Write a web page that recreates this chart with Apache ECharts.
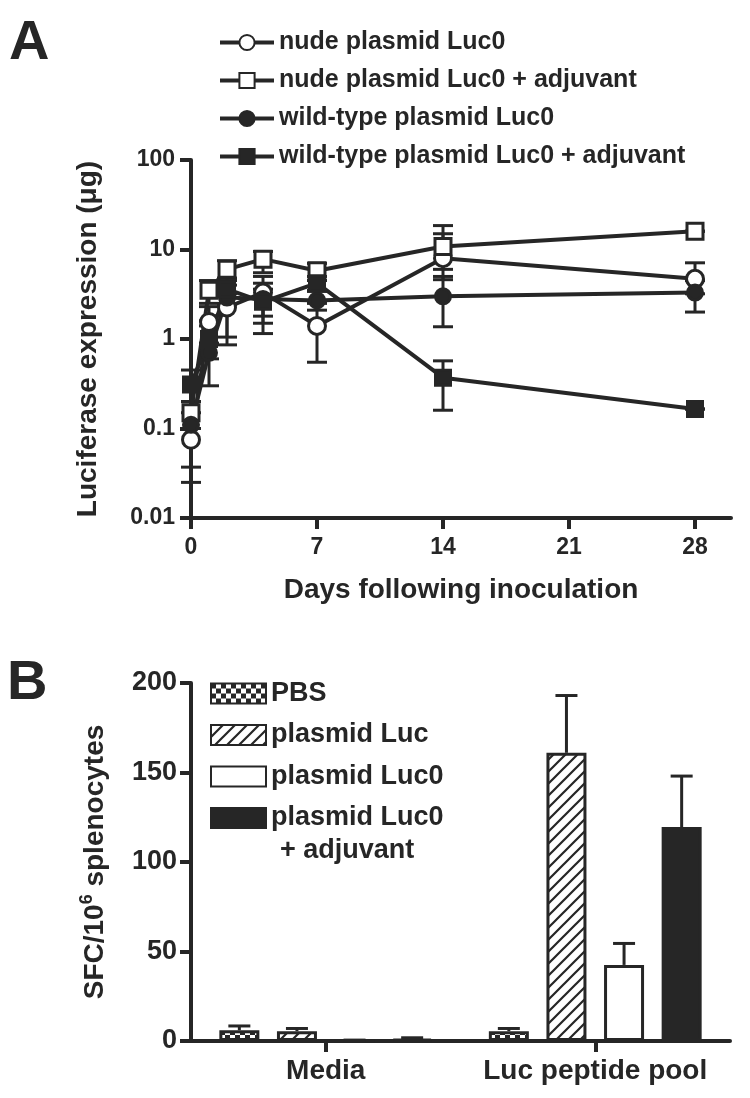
<!DOCTYPE html>
<html>
<head>
<meta charset="utf-8">
<script src="https://cdn.jsdelivr.net/npm/echarts@6/dist/echarts.min.js"></script>
<style>
html, body { margin: 0; padding: 0; background: #fff; }
#chart { width: 750px; height: 1098px; }
</style>
</head>
<body>
<div id="chart"></div>
<script>
// panel A - luciferase expression, log scale
const days = [0, 1, 2, 4, 7, 14, 28];
const xTicksA = [0, 7, 14, 21, 28];
const yTicksA = [0.01, 0.1, 1, 10, 100];

const nudeLuc0     = [0.075, 1.55, 2.25, 3.3, 1.4, 8.0, 4.7];
const nudeLuc0Lo   = [0.025, 0.9, 0.86, 1.15, 0.55, 4.6, 3.2];
const nudeLuc0Hi   = [0.15, 2.3, 3.2, 5.0, 2.5, 15, 7.1];

const nudeAdj      = [0.15, 3.5, 6.0, 7.8, 5.8, 10.8, 16];
const nudeAdjLo    = [0.1, 2.5, 4.5, 5.5, 4.5, 6.0, 16];
const nudeAdjHi    = [0.2, 4.5, 7.5, 9.5, 7.0, 18.5, 16];

const wtLuc0       = [0.11, 0.7, 2.9, 2.8, 2.7, 3.0, 3.3];
const wtLuc0Lo     = [0.037, 0.3, 1.05, 1.5, 2.1, 1.37, 2.0];
const wtLuc0Hi     = [0.2, 1.4, 4.0, 4.2, 3.4, 5.0, 4.5];

const wtAdj        = [0.31, 1.0, 3.6, 2.6, 4.2, 0.37, 0.165];
const wtAdjLo      = [0.2, 0.6, 2.4, 1.8, 3.5, 0.16, 0.165];
const wtAdjHi      = [0.45, 1.6, 4.8, 3.6, 5.0, 0.57, 0.165];

// panel B - ELISpot bars
const groups = ['Media', 'Luc peptide pool'];
const pbs        = [6.0, 5.5];
const pbsErr     = [8.4, 7.0];
const pLuc       = [5.5, 161];
const pLucErr    = [7.0, 193];
const pLuc0      = [0.3, 42.5];
const pLuc0Err   = [0.5, 54.5];
const pLuc0Adj   = [1.2, 119.5];
const pLuc0AdjErr = [1.8, 148];

const INK = '#262626';
const FONT = '"Liberation Sans", Arial, Helvetica, sans-serif';
const BAR_W = 40;
const BAR_GAP = 0.44;

// fill patterns
function checker() {
    const c = document.createElement('canvas');
    c.width = c.height = 10;
    const g = c.getContext('2d');
    g.fillStyle = '#fff'; g.fillRect(0, 0, 10, 10);
    g.fillStyle = INK;
    g.fillRect(0, 0, 5, 5);
    g.fillRect(5, 5, 5, 5);
    return c;
}
function hatch() {
    const s = 12;
    const c = document.createElement('canvas');
    c.width = c.height = s;
    const g = c.getContext('2d');
    g.fillStyle = '#fff'; g.fillRect(0, 0, s, s);
    g.strokeStyle = INK; g.lineWidth = 2.2;
    g.beginPath();
    g.moveTo(-s, s); g.lineTo(s, -s);
    g.moveTo(0, s); g.lineTo(s, 0);
    g.moveTo(0, 2 * s); g.lineTo(2 * s, 0);
    g.stroke();
    return c;
}

// error bars panel A
function errA(params, api) {
    const x = api.value(0);
    const lo = api.coord([x, api.value(1)]);
    const hi = api.coord([x, api.value(2)]);
    const w = 10;
    const st = { stroke: INK, lineWidth: 3 };
    return {
        type: 'group',
        children: [
            { type: 'line', shape: { x1: lo[0], y1: lo[1], x2: hi[0], y2: hi[1] }, style: st },
            { type: 'line', shape: { x1: lo[0] - w, y1: lo[1], x2: lo[0] + w, y2: lo[1] }, style: st },
            { type: 'line', shape: { x1: hi[0] - w, y1: hi[1], x2: hi[0] + w, y2: hi[1] }, style: st }
        ]
    };
}

// error bars panel B (upper only)
function errB(params, api) {
    const cat = api.value(0);
    const k = api.value(3);
    const pitch = BAR_W * (1 + BAR_GAP);
    const off = (k - 1.5) * pitch;
    const top = api.coord([cat, api.value(1)]);
    const cap = api.coord([cat, api.value(2)]);
    const x = top[0] + off;
    const w = 11;
    const st = { stroke: INK, lineWidth: 3 };
    return {
        type: 'group',
        children: [
            { type: 'line', shape: { x1: x, y1: top[1], x2: x, y2: cap[1] }, style: st },
            { type: 'line', shape: { x1: x - w, y1: cap[1], x2: x + w, y2: cap[1] }, style: st }
        ]
    };
}

function lineSeries(name, data, symbol, filled, size) {
    return {
        name: name,
        type: 'line',
        xAxisIndex: 0, yAxisIndex: 0,
        data: days.map((d, i) => [d, data[i]]),
        symbol: symbol,
        symbolSize: size,
        clip: false,
        z: 3,
        lineStyle: { color: INK, width: 4 },
        itemStyle: { color: filled ? INK : '#fff', borderColor: INK, borderWidth: 3 },
        emphasis: { disabled: true }
    };
}

function errSeriesA(lo, hi) {
    return {
        type: 'custom',
        xAxisIndex: 0, yAxisIndex: 0,
        renderItem: errA,
        data: days.map((d, i) => [d, lo[i], hi[i]]),
        encode: { x: 0, y: [1, 2] },
        z: 2,
        silent: true
    };
}

function barSeries(name, data, color) {
    return {
        name: name,
        type: 'bar',
        xAxisIndex: 1, yAxisIndex: 1,
        data: data,
        barWidth: BAR_W,
        barGap: (BAR_GAP * 100) + '%',
        itemStyle: { color: color, borderColor: INK, borderWidth: 3 },
        emphasis: { disabled: true }
    };
}

const errBData = [];
[[pbs, pbsErr], [pLuc, pLucErr], [pLuc0, pLuc0Err], [pLuc0Adj, pLuc0AdjErr]].forEach((p, k) => {
    groups.forEach((g, i) => errBData.push([i, p[0][i], p[1][i], k]));
});

const chart = echarts.init(document.getElementById('chart'));

const tickLabel = { color: INK, fontFamily: FONT, fontWeight: 'bold' };

chart.setOption({
    backgroundColor: '#fff',
    animation: false,
    textStyle: { fontFamily: FONT, color: INK },
    graphic: [
        { type: 'text', left: 9, top: 16, style: { text: 'A', font: 'bold 56px ' + FONT, fill: INK } },
        { type: 'text', left: 7, top: 656, style: { text: 'B', font: 'bold 56px ' + FONT, fill: INK } },
        { type: 'text', left: 280, top: 837, style: { text: '+ adjuvant', font: 'bold 27px ' + FONT, fill: INK } }
    ],
    legend: [
        {
            data: ['nude plasmid Luc0', 'nude plasmid Luc0 + adjuvant', 'wild-type plasmid Luc0', 'wild-type plasmid Luc0 + adjuvant'],
            orient: 'vertical',
            left: 218, top: 30,
            padding: 0,
            itemWidth: 54, itemHeight: 19,
            itemGap: 13,
            selectedMode: false,
            lineStyle: { width: 4, color: INK },
            textStyle: { fontSize: 25, fontWeight: 'bold', color: INK, fontFamily: FONT }
        },
        {
            data: ['PBS', 'plasmid Luc', 'plasmid Luc0', 'plasmid Luc0 + adjuvant'],
            orient: 'vertical',
            left: 210, top: 680,
            padding: 0,
            icon: 'rect',
            itemWidth: 55, itemHeight: 20,
            itemGap: 14.5,
            selectedMode: false,
            formatter: n => n === 'plasmid Luc0 + adjuvant' ? 'plasmid Luc0' : n,
            textStyle: { fontSize: 27, fontWeight: 'bold', color: INK, fontFamily: FONT }
        }
    ],
    grid: [
        { left: 191, top: 160, width: 540, height: 358 },
        { left: 191, top: 683, width: 539, height: 358 }
    ],
    xAxis: [
        {
            gridIndex: 0,
            type: 'value',
            min: 0, max: 30, interval: 7,
            splitLine: { show: false },
            axisLine: { lineStyle: { color: INK, width: 4 } },
            axisTick: { show: true, length: 11, lineStyle: { color: INK, width: 4 }, customValues: xTicksA },
            axisLabel: Object.assign({ fontSize: 23, margin: 18, customValues: xTicksA }, tickLabel),
            name: 'Days following inoculation',
            nameLocation: 'middle',
            nameGap: 58,
            nameTextStyle: { fontSize: 28, fontWeight: 'bold', color: INK, fontFamily: FONT }
        },
        {
            gridIndex: 1,
            type: 'category',
            data: groups,
            axisLine: { lineStyle: { color: INK, width: 4 } },
            axisTick: { show: true, alignWithLabel: true, interval: 0, length: 11, lineStyle: { color: INK, width: 4 } },
            axisLabel: Object.assign({ fontSize: 28, margin: 16, interval: 0, hideOverlap: false }, tickLabel)
        }
    ],
    yAxis: [
        {
            gridIndex: 0,
            type: 'log',
            logBase: 10,
            min: 0.01, max: 100,
            splitLine: { show: false },
            axisLine: { show: true, lineStyle: { color: INK, width: 4 } },
            axisTick: { show: true, length: 11, lineStyle: { color: INK, width: 4 }, customValues: yTicksA },
            axisLabel: Object.assign({ fontSize: 23, margin: 16, customValues: yTicksA, formatter: v => String(v) }, tickLabel),
            name: 'Luciferase expression (\u03bcg)',
            nameLocation: 'middle',
            nameGap: 89,
            nameTextStyle: { fontSize: 28, fontWeight: 'bold', color: INK, fontFamily: FONT }
        },
        {
            gridIndex: 1,
            type: 'value',
            min: 0, max: 200, interval: 50,
            splitLine: { show: false },
            axisLine: { show: true, lineStyle: { color: INK, width: 4 } },
            axisTick: { show: true, length: 11, lineStyle: { color: INK, width: 4 } },
            axisLabel: Object.assign({ fontSize: 27, margin: 14 }, tickLabel),
            name: 'SFC/10{s|6} splenocytes',
            nameLocation: 'middle',
            nameGap: 79,
            nameTextStyle: {
                fontSize: 28, fontWeight: 'bold', color: INK, fontFamily: FONT, lineHeight: 34,
                rich: { s: { fontSize: 18, fontWeight: 'bold', color: INK, fontFamily: FONT, verticalAlign: 'top', lineHeight: 34 } }
            }
        }
    ],
    series: [
        errSeriesA(nudeLuc0Lo, nudeLuc0Hi),
        errSeriesA(nudeAdjLo, nudeAdjHi),
        errSeriesA(wtLuc0Lo, wtLuc0Hi),
        errSeriesA(wtAdjLo, wtAdjHi),
        lineSeries('nude plasmid Luc0', nudeLuc0, 'circle', false, 17),
        lineSeries('nude plasmid Luc0 + adjuvant', nudeAdj, 'rect', false, 16),
        lineSeries('wild-type plasmid Luc0', wtLuc0, 'circle', true, 15),
        lineSeries('wild-type plasmid Luc0 + adjuvant', wtAdj, 'rect', true, 15),

        barSeries('PBS', pbs, { image: checker(), repeat: 'repeat' }),
        barSeries('plasmid Luc', pLuc, { image: hatch(), repeat: 'repeat' }),
        barSeries('plasmid Luc0', pLuc0, '#fff'),
        barSeries('plasmid Luc0 + adjuvant', pLuc0Adj, INK),
        {
            type: 'custom',
            xAxisIndex: 1, yAxisIndex: 1,
            renderItem: errB,
            data: errBData,
            encode: { x: 0, y: [1, 2] },
            z: 3,
            silent: true
        }
    ]
});
</script>
</body>
</html>
